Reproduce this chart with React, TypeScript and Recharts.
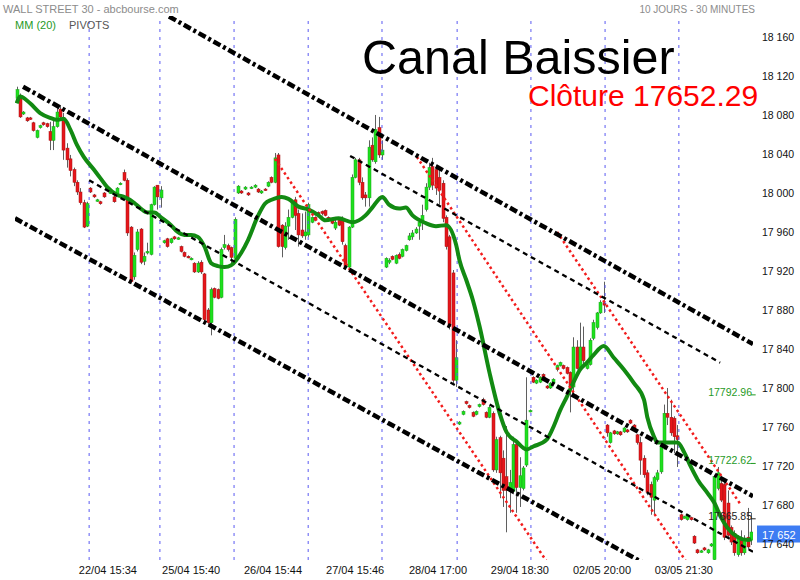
import React from 'react';
import { ComposedChart, Bar, Line, XAxis, YAxis, ReferenceLine } from 'recharts';

const FONT = '"Liberation Sans", Arial, Helvetica, sans-serif';

// 30 minute candles, [open, high, low, close], one array per session
const session0 = [
  [18097, 18109, 18095, 18106], [18100, 18102, 18077, 18078], [18081, 18084, 18080, 18083], [18077, 18078, 18073, 18074],
  [18077, 18078, 18075, 18076], [18072, 18073, 18063, 18064], [18057, 18065, 18056, 18064], [18067, 18070, 18066, 18069],
  [18072, 18073, 18069, 18070], [18071, 18072, 18067, 18068], [18063, 18073, 18044, 18054], [18054, 18075, 18044, 18068],
  [18068, 18087, 18067, 18083], [18086, 18090, 18075, 18078], [18077, 18082, 18034, 18044], [18046, 18051, 18026, 18034],
  [18035, 18039, 18017, 18023], [18024, 18026, 18007, 18011], [18011, 18013, 17998, 18001], [18001, 18005, 17988, 17990],
  [17990, 17993, 17964, 17965], [17966, 17991, 17965, 17989],
];
const session1 = [
  [18005, 18006, 18000, 18001], [17998, 17999, 17995, 17996], [17992, 17994, 17991, 17993], [17991, 17992, 17988, 17989],
  [18000, 18001, 17995, 17996], [18003, 18006, 18002, 18005], [18000, 18002, 17999, 18001], [17996, 17997, 17990, 17991],
  [17998, 18006, 17997, 18005], [18009, 18011, 18008, 18010], [18021, 18024, 18012, 18013], [18013, 18015, 17956, 17959],
  [17965, 17966, 17907, 17909], [17914, 17939, 17911, 17936], [17942, 17963, 17940, 17960], [17963, 17964, 17927, 17929],
  [17930, 17939, 17926, 17935], [17939, 17949, 17937, 17940], [17937, 17989, 17936, 17988], [17988, 18007, 17987, 18006],
  [18008, 18008, 17983, 17996], [17995, 18007, 17985, 18003],
];
const session2 = [
  [17949, 17952, 17948, 17951], [17953, 17954, 17944, 17945], [17949, 17954, 17948, 17953], [17955, 17956, 17952, 17953],
  [17953, 17955, 17952, 17954], [17945, 17946, 17939, 17940], [17939, 17940, 17934, 17935], [17935, 17936, 17933, 17934],
  [17932, 17934, 17931, 17933], [17928, 17929, 17918, 17919], [17919, 17930, 17918, 17928], [17929, 17931, 17917, 17919],
  [17917, 17918, 17865, 17870], [17880, 17882, 17864, 17867], [17867, 17903, 17854, 17901], [17902, 17903, 17892, 17893],
  [17901, 17902, 17891, 17892], [17893, 17944, 17892, 17942], [17944, 17957, 17942, 17947], [17946, 17948, 17940, 17942],
  [17944, 17945, 17924, 17934], [17933, 17975, 17932, 17973],
];
const session3 = [
  [18000, 18008, 17999, 18007], [18002, 18003, 17999, 18000], [18004, 18007, 18003, 18006], [18000, 18001, 17997, 17998],
  [18005, 18007, 18004, 18006], [18006, 18009, 18005, 18008], [18004, 18005, 18000, 18001], [18000, 18003, 17999, 18002],
  [18004, 18005, 18002, 18003], [18007, 18012, 18006, 18011], [18016, 18017, 18010, 18011], [18011, 18041, 18010, 18036],
  [18039, 18041, 17944, 17945], [17967, 17968, 17934, 17945], [17944, 17970, 17942, 17966], [17966, 17983, 17952, 17975],
  [17975, 17993, 17974, 17991], [17993, 17996, 17962, 17977], [17979, 17983, 17945, 17957], [17962, 17979, 17954, 17956],
  [17956, 17981, 17952, 17960], [17957, 17990, 17955, 17988],
];
const session4 = [
  [17970, 17976, 17969, 17975], [17975, 17976, 17971, 17972], [17980, 17981, 17977, 17979], [17981, 17982, 17977, 17979],
  [17982, 17983, 17976, 17977], [17975, 17976, 17971, 17972], [17972, 17973, 17968, 17969], [17964, 17974, 17962, 17970],
  [17972, 17974, 17966, 17967], [17974, 17976, 17947, 17950], [17946, 17948, 17923, 17924], [17924, 17966, 17922, 17965],
  [17965, 18019, 17964, 18016], [18016, 18036, 18015, 18034], [18034, 18036, 18008, 18011], [18011, 18016, 17993, 17995],
  [17998, 18001, 17986, 17995], [17995, 18054, 17986, 18047], [18049, 18057, 18032, 18034], [18032, 18080, 18030, 18065],
  [18067, 18078, 18036, 18039], [18039, 18054, 18034, 18044],
];
const session5 = [
  [17924, 17934, 17923, 17933], [17929, 17933, 17927, 17931], [17935, 17936, 17931, 17932], [17928, 17937, 17927, 17936],
  [17937, 17939, 17932, 17933], [17935, 17943, 17934, 17942], [17941, 17947, 17940, 17946], [17952, 17959, 17951, 17956],
  [17955, 17962, 17952, 17959], [17959, 17965, 17958, 17963], [17966, 17972, 17952, 17970], [17970, 17988, 17962, 17977],
  [17983, 18010, 17981, 18006], [18006, 18031, 18003, 18026], [18027, 18036, 18003, 18008], [18024, 18029, 17998, 18005],
  [18016, 18024, 17988, 18003], [18010, 18013, 17970, 17974], [17975, 17977, 17942, 17945], [17955, 17957, 17860, 17863],
  [17918, 17921, 17805, 17808], [17808, 17849, 17801, 17831],
];
const session6 = [
  [17763, 17766, 17762, 17765], [17773, 17777, 17772, 17776], [17786, 17787, 17783, 17784], [17782, 17783, 17779, 17780],
  [17775, 17776, 17770, 17771], [17773, 17777, 17772, 17776], [17781, 17784, 17780, 17783], [17788, 17790, 17782, 17783],
  [17775, 17776, 17769, 17770], [17770, 17782, 17769, 17780], [17774, 17776, 17714, 17716], [17716, 17750, 17713, 17747],
  [17749, 17751, 17687, 17713], [17728, 17736, 17678, 17695], [17709, 17761, 17652, 17695], [17694, 17716, 17672, 17703],
  [17694, 17750, 17691, 17742], [17742, 17747, 17672, 17698], [17698, 17729, 17678, 17710], [17697, 17720, 17695, 17718],
  [17721, 17811, 17719, 17767], [17776, 17778, 17775, 17777],
];
const session7 = [
  [17811, 17812, 17805, 17806], [17805, 17809, 17804, 17808], [17806, 17812, 17805, 17811], [17814, 17815, 17807, 17808],
  [17802, 17803, 17799, 17800], [17800, 17806, 17799, 17805], [17805, 17810, 17804, 17809], [17819, 17824, 17817, 17823],
  [17823, 17827, 17822, 17826], [17823, 17824, 17819, 17820], [17821, 17822, 17814, 17815], [17816, 17817, 17775, 17801],
  [17801, 17852, 17791, 17842], [17842, 17849, 17819, 17820], [17820, 17867, 17819, 17842], [17842, 17863, 17822, 17828],
  [17820, 17826, 17819, 17824], [17824, 17851, 17823, 17849], [17851, 17870, 17849, 17867], [17862, 17878, 17860, 17877],
  [17877, 17890, 17876, 17888], [17887, 17909, 17877, 17885],
];
const session8 = [
  [17762, 17763, 17750, 17754], [17744, 17755, 17743, 17754], [17756, 17757, 17752, 17753], [17753, 17756, 17752, 17755],
  [17755, 17756, 17751, 17752], [17755, 17760, 17754, 17759], [17757, 17758, 17754, 17755], [17767, 17768, 17763, 17764],
  [17762, 17763, 17758, 17759], [17752, 17753, 17742, 17744], [17744, 17750, 17711, 17726], [17728, 17731, 17708, 17711],
  [17713, 17716, 17690, 17693], [17701, 17704, 17670, 17688], [17685, 17710, 17670, 17708], [17706, 17716, 17704, 17713],
  [17714, 17742, 17712, 17740], [17740, 17783, 17737, 17774], [17774, 17800, 17762, 17770], [17770, 17788, 17751, 17754],
  [17769, 17771, 17733, 17750], [17751, 17762, 17719, 17747],
];
const session9 = [
  [17670, 17671, 17664, 17665], [17667, 17669, 17666, 17668], [17665, 17671, 17664, 17670], [17667, 17668, 17664, 17665],
  [17648, 17649, 17640, 17641], [17634, 17635, 17630, 17631], [17632, 17634, 17631, 17633], [17636, 17637, 17633, 17634],
  [17631, 17635, 17630, 17634], [17638, 17641, 17637, 17640], [17624, 17711, 17622, 17709], [17697, 17719, 17695, 17713],
  [17702, 17708, 17683, 17685], [17701, 17704, 17644, 17647], [17682, 17695, 17647, 17649], [17657, 17659, 17639, 17642],
  [17651, 17654, 17628, 17631], [17629, 17649, 17627, 17646], [17644, 17654, 17628, 17631], [17631, 17649, 17629, 17644],
  [17647, 17677, 17634, 17637], [17644, 17672, 17639, 17652.29],
];

// MM (20) at these candle indices
const maIdx = [
  0, 1, 4, 7, 10, 12, 14, 16, 18, 20, 23, 25, 27, 30, 32, 35, 37, 39, 41, 43, 46, 48, 50, 52, 54, 56, 58, 60, 62, 64,
  67, 69, 72, 74, 76, 79, 81, 84, 87, 90, 92, 96, 100, 104, 106, 109, 111, 114, 116, 118, 122, 125, 128, 131, 132, 134,
  136, 138, 141, 144, 146, 149, 152, 154, 158, 160, 162, 164, 166, 168, 170, 172, 175, 178, 181, 184, 187, 188, 190, 191,
  194, 197, 199, 201, 203, 206, 208, 210, 212, 215, 218, 219,
];
const maVal = [
  18092, 18099, 18092, 18082, 18077, 18075, 18076, 18065, 18049, 18037, 18024, 18015, 18006, 17998, 17996, 17990, 17984,
  17980, 17980, 17975, 17967, 17960, 17957, 17957, 17955, 17945, 17928, 17925, 17924, 17926, 17939, 17952, 17977, 17989,
  17993, 17996, 17994, 17986, 17983, 17977, 17972, 17974, 17970, 17977, 17985, 17996, 17988, 17984, 17985, 17977, 17969,
  17966, 17967, 17947, 17931, 17911, 17890, 17863, 17815, 17774, 17755, 17745, 17737, 17740, 17747, 17760, 17777, 17791,
  17806, 17819, 17826, 17834, 17843, 17831, 17819, 17805, 17788, 17770, 17750, 17744, 17744, 17744, 17734, 17719, 17706,
  17692, 17682, 17667, 17656, 17647, 17644, 17645,
];

const yTicks = [17640, 17680, 17720, 17760, 17800, 17840, 17880, 17920, 17960, 18000, 18040, 18080, 18120, 18160];
const xTickIdx = [27.2, 52.0, 76.4, 100.9, 125.6, 150.0, 174.5, 198.9];
const xTickLabels = ['22/04 15:34', '25/04 15:40', '26/04 15:44', '27/04 15:46', '28/04 17:00', '29/04 18:30', '02/05 20:00', '03/05 21:30'];
const sessionBreaks = [21.6, 42.7, 64.8, 86.9, 108.9, 131.3, 153.3, 175.4, 197.4];

// trend lines, [candle index, price]
const channelLines = [
  [[45.4, 18181], [219.5, 17845]],
  [[1.9, 18109], [219.5, 17689]],
  [[-0.5, 17974], [189.8, 17615]],
];
const innerLines = [
  [[99.4, 18038], [209.7, 17826]],
  [[21.6, 18013], [219.5, 17632]],
];
const redLines = [
  [[77.0, 18035], [159.6, 17614]],
  [[119.3, 18037], [201.1, 17614]],
  [[161.1, 17960], [215.9, 17680]],
];
const pivotValues = [17792.96, 17722.62, 17665.85];
const pivotColors = ['#1f9a1f', '#1f9a1f', '#222222'];

const candles = [session0, session1, session2, session3, session4, session5, session6, session7, session8, session9].flat();
const lastClose = candles[candles.length - 1][3];
const maByIdx = new Map(maIdx.map((i, k) => [i, maVal[k]]));
const rows = candles.map(([o, h, l, c], i) => ({ i, o, h, l, c, range: [l, h], ma: maByIdx.has(i) ? maByIdx.get(i) : null }));

const fmtPrice = (v: number) => {
  const n = Math.round(v);
  return `${Math.floor(n / 1000)} ${String(n % 1000).padStart(3, '0')}`;
};

const Candle = (props: any) => {
  const { x, y, width, height, payload } = props;
  if (!payload || height == null || isNaN(y)) return null;
  const { o, h, l, c } = payload;
  const cx = Math.round(x + width / 2);
  const k = h === l ? 0 : height / (h - l);
  const yO = y + (h - o) * k;
  const yC = y + (h - c) * k;
  const up = c >= o;
  const top = Math.min(yO, yC);
  const bh = Math.max(1.5, Math.abs(yC - yO));
  return (
    <g>
      <line x1={cx + 0.5} x2={cx + 0.5} y1={y} y2={y + height} stroke="#5f5f5f" strokeWidth={1} />
      <rect x={cx - 1} y={top} width={3} height={bh} fill={up ? '#1ee01e' : '#e6161b'} stroke={up ? '#17a817' : '#a81010'} strokeWidth={0.5} />
    </g>
  );
};

const PriceTag = (p: any) => {
  const vb = p.viewBox;
  const x = vb.x + vb.width + 4;
  return (
    <g>
      <rect x={x} y={vb.y - 6.5} width={48} height={17} fill="#3d7cf3" />
      <text x={x + 5} y={vb.y + 6.5} fill="#ffffff" fontSize={11} fontFamily={FONT}>{fmtPrice(lastClose)}</text>
    </g>
  );
};

const pivotLabel = (text: string, color: string) => (p: any) => {
  const vb = p.viewBox;
  return (
    <text x={vb.x + 1} y={vb.y + 1} textAnchor="end" fill={color} fontSize={10.5} fontFamily={FONT}>{text}</text>
  );
};

export default function App() {
  return (
    <div style={{ position: 'absolute', left: 0, top: 0, width: 800, height: 580, background: '#fff', fontFamily: FONT }}>
      <ComposedChart width={800} height={580} data={rows} margin={{ top: 16, right: 0, bottom: 0, left: 15 }}>
        <XAxis
          dataKey="i"
          type="number"
          domain={[-0.5, 219.5]}
          allowDataOverflow
          ticks={xTickIdx}
          interval={0}
          tickFormatter={(v: number) => xTickLabels[xTickIdx.indexOf(v)] ?? ''}
          axisLine={false}
          tickLine={false}
          tickSize={0}
          tickMargin={6}
          height={20}
          tick={{ fill: '#111', fontSize: 11, fontFamily: FONT }}
        />
        <YAxis
          orientation="right"
          domain={[17623.6, 18181.5]}
          allowDataOverflow
          ticks={yTicks}
          interval={0}
          tickFormatter={fmtPrice}
          axisLine={false}
          tickLine={false}
          tickSize={0}
          tickMargin={9}
          width={47}
          tick={{ fill: '#111', fontSize: 10.5, fontFamily: FONT }}
        />
        {sessionBreaks.map((b) => (
          <ReferenceLine key={`s${b}`} x={b} stroke="#5a5af2" strokeWidth={1} strokeDasharray="3 5" />
        ))}
        <Bar dataKey="range" barSize={3} shape={Candle} isAnimationActive={false} />
        <Line
          dataKey="ma"
          type="monotone"
          connectNulls
          dot={false}
          stroke="#128a12"
          strokeWidth={4}
          strokeLinejoin="round"
          isAnimationActive={false}
        />
        {redLines.map((s, k) => (
          <ReferenceLine
            key={`r${k}`}
            segment={[{ x: s[0][0], y: s[0][1] }, { x: s[1][0], y: s[1][1] }]}
            stroke="#f21c1c"
            strokeWidth={2.5}
            strokeDasharray="2.5 3"
            ifOverflow="hidden"
          />
        ))}
        {innerLines.map((s, k) => (
          <ReferenceLine
            key={`d${k}`}
            segment={[{ x: s[0][0], y: s[0][1] }, { x: s[1][0], y: s[1][1] }]}
            stroke="#000"
            strokeWidth={2.3}
            strokeDasharray="5 4"
            ifOverflow="hidden"
          />
        ))}
        {channelLines.map((s, k) => (
          <ReferenceLine
            key={`c${k}`}
            segment={[{ x: s[0][0], y: s[0][1] }, { x: s[1][0], y: s[1][1] }]}
            stroke="#000"
            strokeWidth={4.5}
            strokeDasharray="8 3 3 3"
            ifOverflow="hidden"
          />
        ))}
        {pivotValues.map((v, k) => (
          <ReferenceLine
            key={`p${k}`}
            segment={[{ x: 218.9, y: v }, { x: 220.3, y: v }]}
            stroke={pivotColors[k]}
            strokeWidth={1}
            ifOverflow="visible"
            label={pivotLabel(v.toFixed(2), pivotColors[k])}
          />
        ))}
        <ReferenceLine y={lastClose} stroke="none" ifOverflow="visible" label={PriceTag} />
      </ComposedChart>

      <div style={{ position: 'absolute', left: 3, top: 4, fontSize: 11, lineHeight: 1, color: '#8c8c8c', whiteSpace: 'nowrap' }}>
        WALL STREET 30 - abcbourse.com
      </div>
      <div style={{ position: 'absolute', right: 45, top: 4.5, fontSize: 10, lineHeight: 1, color: '#8c8c8c', whiteSpace: 'nowrap' }}>
        10 JOURS - 30 MINUTES
      </div>
      <div style={{ position: 'absolute', left: 15, top: 20, fontSize: 11, lineHeight: 1, color: '#1f9a1f', whiteSpace: 'nowrap' }}>
        MM (20)
      </div>
      <div style={{ position: 'absolute', left: 69, top: 20, fontSize: 11, lineHeight: 1, color: '#555', whiteSpace: 'nowrap' }}>
        PIVOTS
      </div>
      <div style={{ position: 'absolute', left: 362, top: 36.6, fontSize: 48.5, lineHeight: 0.85, color: '#000', whiteSpace: 'nowrap' }}>
        Canal Baissier
      </div>
      <div style={{ position: 'absolute', left: 528, top: 84.3, fontSize: 30, lineHeight: 0.8, color: '#f00', whiteSpace: 'nowrap' }}>
        {`Clôture ${lastClose.toFixed(2)}`}
      </div>
    </div>
  );
}
